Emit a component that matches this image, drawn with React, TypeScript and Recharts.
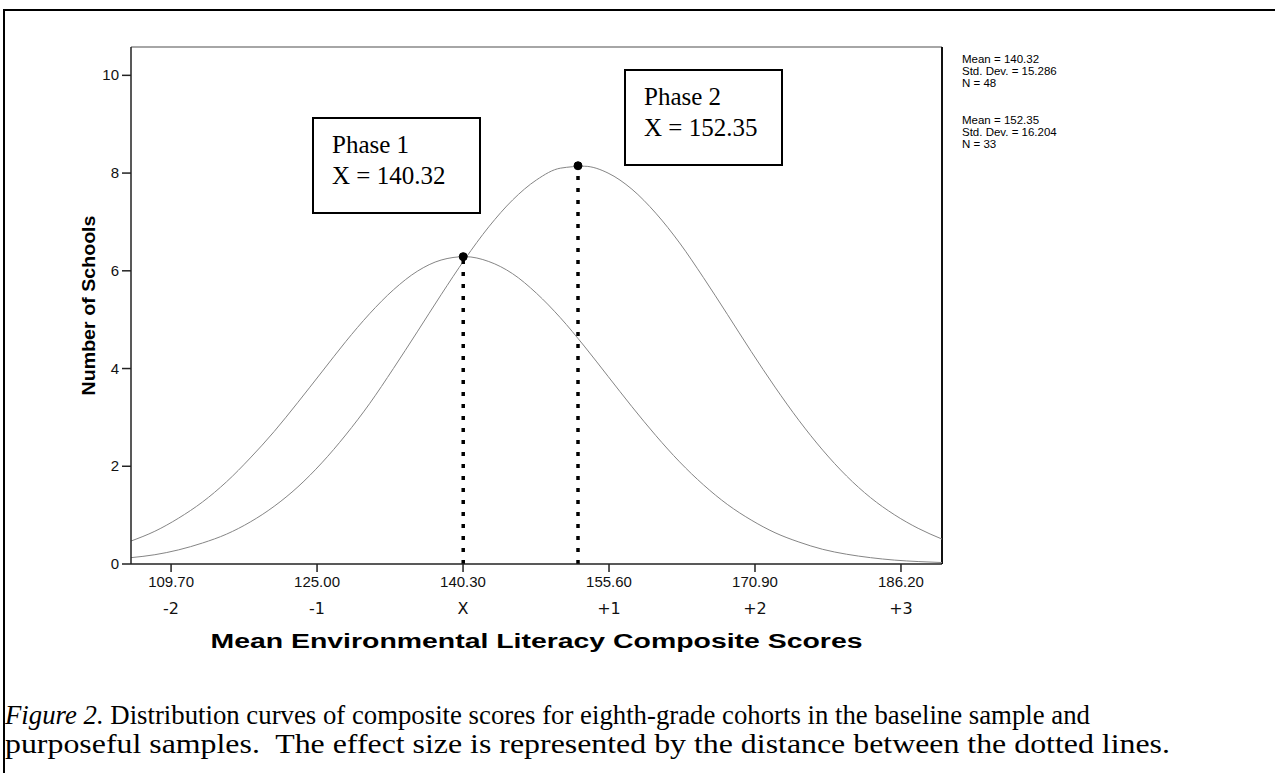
import React from "react";
import {
  LineChart, Line, XAxis, YAxis, Label,
  ReferenceLine, ReferenceDot,
} from "recharts";

const scores = [
  105.5, 108, 110.5, 113, 115.5, 118, 120.5, 123, 125.5, 128, 130.5, 133,
  135.5, 138, 140.5, 143, 145.5, 148, 150.5, 153, 155.5, 158, 160.5, 163,
  165.5, 168, 170.5, 173, 175.5, 178, 180.5, 183, 185.5, 188, 190.5,
];
const phase1 = [
  0.47, 0.67, 0.94, 1.27, 1.68, 2.17, 2.71, 3.31, 3.93, 4.55, 5.12, 5.61,
  5.99, 6.22, 6.29, 6.19, 5.94, 5.54, 5.04, 4.46, 3.84, 3.22, 2.63, 2.09,
  1.62, 1.22, 0.9, 0.64, 0.45, 0.3, 0.2, 0.13, 0.08, 0.05, 0.03,
];
const phase2 = [
  0.13, 0.19, 0.29, 0.43, 0.61, 0.86, 1.18, 1.58, 2.07, 2.64, 3.28, 4.0,
  4.75, 5.51, 6.24, 6.9, 7.45, 7.86, 8.1, 8.14, 8.0, 7.67, 7.18, 6.57,
  5.86, 5.11, 4.35, 3.62, 2.94, 2.33, 1.8, 1.36, 1.01, 0.73, 0.51,
];

const xTicks = [109.7, 125.0, 140.3, 155.6, 170.9, 186.2];
const sdLabels = ["-2", "-1", "X", "+1", "+2", "+3"];
const yTicks = [0, 2, 4, 6, 8, 10];

const phaseNames = ["Phase 1", "Phase 2"];
const means = [140.32, 152.35];
const peaks = [6.29, 8.15];
const stdDevs = [15.286, 16.204];
const counts = [48, 33];

const X_DOMAIN: [number, number] = [105.5, 190.5];
const Y_MAX = 10.58;

const data = scores.map((s, i) => ({ score: s, p1: phase1[i], p2: phase2[i] }));

const SANS = "'Liberation Sans', Arial, sans-serif";
const SERIF = "'Liberation Serif', 'Times New Roman', serif";

// eslint-disable-next-line @typescript-eslint/no-explicit-any
function XTick({ x, y, payload }: any) {
  const idx = xTicks.indexOf(payload.value);
  return (
    <g>
      <text x={x} y={y + 13} textAnchor="middle" fontFamily={SANS} fontSize={15} fill="#111">
        {Number(payload.value).toFixed(2)}
      </text>
      <text x={x} y={y + 40} textAnchor="middle" fontFamily="'DejaVu Sans', Verdana, sans-serif"
        fontSize={16} fill="#111">
        {sdLabels[idx]}
      </text>
    </g>
  );
}

// eslint-disable-next-line @typescript-eslint/no-explicit-any
function YTick({ x, y, payload }: any) {
  return (
    <text x={x} y={y} dy={5} textAnchor="end" fontFamily={SANS} fontSize={15} fill="#111">
      {payload.value}
    </text>
  );
}

// eslint-disable-next-line @typescript-eslint/no-explicit-any
function YTitle({ viewBox }: any) {
  const cx = viewBox.x + 7;
  const cy = viewBox.y + viewBox.height / 2;
  return (
    <text x={cx} y={cy} transform={`rotate(-90 ${cx} ${cy})`} textAnchor="middle"
      dominantBaseline="central" fontFamily="'Liberation Sans Narrow', 'Liberation Sans', Arial"
      fontWeight={700} fontSize={19} fill="#000" textLength={180} lengthAdjust="spacingAndGlyphs">
      Number of Schools
    </text>
  );
}

// eslint-disable-next-line @typescript-eslint/no-explicit-any
function XTitle({ viewBox }: any) {
  const cx = viewBox.x + viewBox.width / 2;
  return (
    <text x={cx} y={viewBox.y + 84} textAnchor="middle" fontFamily={SANS} fontWeight={700}
      fontSize={20} fill="#000" textLength={652} lengthAdjust="spacingAndGlyphs">
      Mean Environmental Literacy Composite Scores
    </text>
  );
}

const boxes = [
  { left: 312, top: 117, width: 169, height: 97 },
  { left: 624, top: 69, width: 159, height: 97 },
];

export default function App() {
  return (
    <div style={{ position: "absolute", left: 0, top: 0, width: 1275, height: 773, background: "#fff", overflow: "hidden" }}>
      {/* figure border */}
      <div style={{ position: "absolute", left: 3, top: 9, width: 1300, height: 800, border: "2px solid #000" }} />

      <div style={{ position: "absolute", left: 0, top: 0 }}>
        <LineChart width={1275} height={773} data={data}
          margin={{ top: 47, right: 333, left: 81, bottom: 119 }}>
          <XAxis dataKey="score" type="number" domain={X_DOMAIN} ticks={xTicks}
            allowDataOverflow height={90} tickSize={8} tickMargin={2}
            stroke="#222" strokeWidth={1.5} tick={<XTick />} interval={0}>
            <Label content={XTitle} />
          </XAxis>
          <YAxis type="number" domain={[0, Y_MAX]} ticks={yTicks} allowDataOverflow width={50}
            tickSize={9} tickMargin={3} stroke="#222" strokeWidth={1.5} tick={<YTick />}>
            <Label content={YTitle} />
          </YAxis>

          {/* plot frame */}
          <ReferenceLine y={Y_MAX} stroke="#888" strokeWidth={1.5} />
          <ReferenceLine x={X_DOMAIN[1]} stroke="#111" strokeWidth={2} />

          <Line type="monotone" dataKey="p1" stroke="#858585" strokeWidth={1} dot={false}
            isAnimationActive={false} />
          <Line type="monotone" dataKey="p2" stroke="#858585" strokeWidth={1} dot={false}
            isAnimationActive={false} />

          {means.map((m, i) => (
            <ReferenceLine key={"d" + i} segment={[{ x: m, y: 0 }, { x: m, y: peaks[i] }]}
              stroke="#000" strokeWidth={3.5} strokeDasharray="4 8" />
          ))}
          {means.map((m, i) => (
            <ReferenceDot key={"p" + i} x={m} y={peaks[i]} r={4} fill="#000" stroke="#000" />
          ))}
        </LineChart>
      </div>

      {/* phase boxes */}
      {boxes.map((b, i) => (
        <div key={i} style={{
          position: "absolute", left: b.left, top: b.top, width: b.width, height: b.height,
          border: "2px solid #000", boxSizing: "border-box", background: "#fff",
          fontFamily: SERIF, fontSize: 25, lineHeight: "31px", paddingLeft: 18, paddingTop: 10, color: "#000",
        }}>
          <div>{phaseNames[i]}</div>
          <div>X = {means[i].toFixed(2)}</div>
        </div>
      ))}

      {/* summary stats + caption */}
      <svg width={1275} height={773} style={{ position: "absolute", left: 0, top: 0, pointerEvents: "none" }}>
        {means.map((m, i) => (
          <g key={i} fontFamily={SANS} fontSize={11.5} fill="#000">
            <text x={962} y={63 + i * 61}>Mean = {m.toFixed(2)}</text>
            <text x={962} y={75 + i * 61}>Std. Dev. = {stdDevs[i].toFixed(3)}</text>
            <text x={962} y={87 + i * 61}>N = {counts[i]}</text>
          </g>
        ))}
        <text x={5} y={724} fontFamily={SERIF} fontSize={27} fill="#000" textLength={1085}
          lengthAdjust="spacingAndGlyphs">
          <tspan fontStyle="italic">Figure 2.</tspan> Distribution curves of composite scores for eighth-grade cohorts in the baseline sample and
        </text>
        <text x={5} y={753} fontFamily={SERIF} fontSize={27} fill="#000" textLength={1165}
          lengthAdjust="spacingAndGlyphs">
          {"purposeful samples.\u00a0 The effect size is represented by the distance between the dotted lines."}
        </text>
      </svg>
    </div>
  );
}
